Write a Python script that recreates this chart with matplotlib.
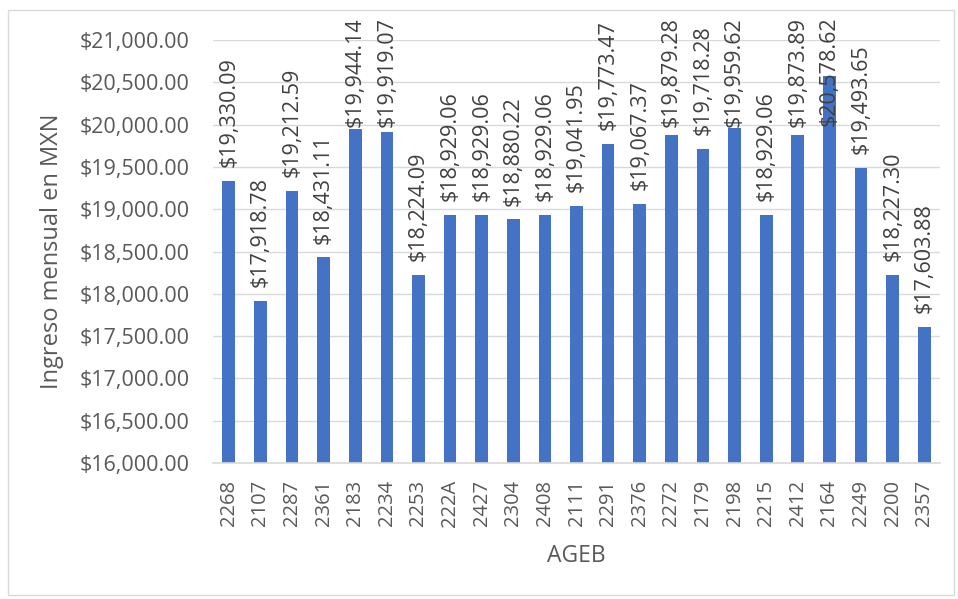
import matplotlib.pyplot as plt
from matplotlib.patches import Rectangle
from matplotlib.ticker import FuncFormatter

plt.rcParams['font.family'] = ['Open Sans', 'DejaVu Sans']

ageb = ['2268', '2107', '2287', '2361', '2183', '2234', '2253', '222A', '2427', '2304',
        '2408', '2111', '2291', '2376', '2272', '2179', '2198', '2215', '2412', '2164',
        '2249', '2200', '2357']
ingreso = [19330.09, 17918.78, 19212.59, 18431.11, 19944.14, 19919.07, 18224.09, 18929.06,
           18929.06, 18880.22, 18929.06, 19041.95, 19773.47, 19067.37, 19879.28, 19718.28,
           19959.62, 18929.06, 19873.89, 20578.62, 19493.65, 18227.30, 17603.88]

BAR = '#4472C4'
TXT = '#595959'
GRID = '#D9D9D9'


def money(v, pos=None):
    return f'${v:,.2f}'


fig = plt.figure(figsize=(9.58, 5.99), dpi=100)
fig.patches.append(Rectangle((8 / 958, 4 / 599), 946 / 958, 585 / 599,
                             transform=fig.transFigure, fill=False,
                             edgecolor='#D9D9D9', linewidth=1))
ax = fig.add_axes([0.2223, 0.227, 0.759, 0.706])

x = range(len(ageb))
ax.bar(x, ingreso, width=0.4, color=BAR, zorder=2)

ax.set_ylim(16000, 21000)
ax.set_xlim(-0.5, len(ageb) - 0.5)
ax.set_yticks(range(16000, 21001, 500))
ax.yaxis.set_major_formatter(FuncFormatter(money))
ax.set_xticks(list(x))
ax.set_xticklabels(ageb, rotation=90)
ax.tick_params(axis='y', length=0, pad=17, labelsize=15.5, labelcolor=TXT)
ax.tick_params(axis='x', length=0, pad=12, labelsize=14.5, labelcolor=TXT)
ax.grid(axis='y', color=GRID, linewidth=1, zorder=0)
for s in ['top', 'right', 'left']:
    ax.spines[s].set_visible(False)
ax.spines['bottom'].set_color(GRID)
ax.spines['bottom'].set_linewidth(1.2)

ax.set_ylabel('Ingreso mensual en MXN', fontsize=17, color=TXT, labelpad=11)
ax.set_xlabel('AGEB', fontsize=16.5, color=TXT, labelpad=12)

# value labels above each bar; any that would run past the chart top get pushed down
labels = []
for i, v in enumerate(ingreso):
    t = ax.annotate(money(v), (i, v), xytext=(0, 10), textcoords='offset points',
                    rotation=90, ha='center', va='bottom', fontsize=15.5, color='#404040',
                    zorder=3)
    labels.append(t)

fig.canvas.draw()
r = fig.canvas.get_renderer()
limit = fig.bbox.height - 17
for t in labels:
    bb = t.get_window_extent(r)
    if bb.y1 > limit:
        over = (bb.y1 - limit) * 72 / fig.dpi
        t.set_position((0, 10 - over))

fig.savefig('out.png', dpi=100)
